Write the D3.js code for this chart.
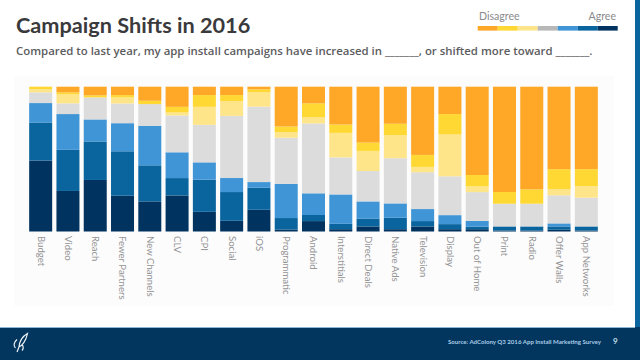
<!DOCTYPE html>
<html>
<head>
<meta charset="utf-8">
<style type="text/css">
	html, body { margin: 0; padding: 0; background: #fff; }
	svg { display: block; font-family: "Lato", sans-serif; }
	.title { font-size: 21.7px; font-weight: 700; fill: #3a3a3c; }
	.subtitle { font-family: "Open Sans", sans-serif; font-size: 11.4px; font-weight: 600; fill: #5c5c5e; }
	.legend_label { font-size: 10.6px; fill: #8a8a8c; }
	.x.axis text { font-size: 9.6px; fill: #949496; }
	.source { font-size: 6.1px; font-weight: 700; fill: #a9cde6; }
	.page_no { font-size: 8px; font-weight: 700; fill: #c6e0f0; }
</style>
<script src="https://d3js.org/d3.v7.min.js"></script>
</head>
<body>
<script type="text/javascript">
	var categories = ["Budget", "Video", "Reach", "Fewer Partners", "New Channels", "CLV", "CPI", "Social", "iOS",
		"Programmatic", "Android", "Interstitials", "Direct Deals", "Native Ads", "Television", "Display",
		"Out of Home", "Print", "Radio", "Offer Walls", "App Networks"];

	// bottom of the stack first
	var agree3 = [49, 28, 35.6, 24.7, 20.8, 24.9, 13.6, 7.4, 15, 1.4, 7.2, 1.6, 3.5, 1.6, 3.5, 1.6, 1.6, 0.7, 0.7, 1.2, 0.7];
	var agree2 = [26.3, 28.4, 26.6, 30.7, 24.9, 12, 22.2, 19.9, 15.2, 7.9, 4.2, 3.7, 5.5, 7.9, 3.7, 3.5, 1.8, 2.8, 2.8, 2.3, 2.8];
	var agree1 = [13.4, 24.7, 15.2, 19.4, 27.3, 17.8, 12, 9.7, 3.9, 23.6, 15, 20.3, 11.8, 9.9, 8.3, 6.2, 3.9, 0, 0, 2.1, 0];
	var neutral = [7.4, 7.4, 15.2, 13.6, 15, 25.4, 25.9, 43, 52, 31.9, 48.3, 25.6, 21, 31.2, 25.4, 26.8, 19.9, 15.7, 15.7, 19.4, 19.9];
	var disagree1 = [2.3, 6.2, 0, 4.2, 0, 2.1, 12.5, 10.2, 9.9, 3.9, 4.2, 16.9, 13.9, 15.9, 3.7, 28.9, 3.9, 0, 0, 4.2, 7.9];
	var disagree2 = [1.6, 1.4, 1.4, 1.6, 2.3, 3.9, 8.1, 4.2, 2.1, 3.9, 9.7, 5.8, 5.8, 7.9, 8.3, 14.1, 7.9, 8.1, 9.9, 13.9, 11.8];
	var disagree3 = [0, 3.9, 6, 5.8, 9.7, 13.9, 5.8, 5.8, 1.8, 27.5, 11.5, 26.1, 38.6, 25.6, 47.1, 18.9, 61, 72.7, 70.9, 57, 57];

	var series_names = ["agree3", "agree2", "agree1", "neutral", "disagree1", "disagree2", "disagree3"];
	var series_values = [agree3, agree2, agree1, neutral, disagree1, disagree2, disagree3];
	var bar_colors = ["#00335f", "#0a659f", "#3f95d5", "#dcdcdc", "#ffe58a", "#ffd833", "#ffa726"];
	var legend_colors = ["#ffa726", "#ffd833", "#ffe58a", "#b8b8b8", "#3f95d5", "#0a659f", "#00335f"];

	var width = 640, height = 360;

	var table = categories.map(function(c, i) {
		var row = { category: c };
		series_names.forEach(function(name, j) { row[name] = series_values[j][i]; });
		return row;
	});

	var stacked = d3.stack()
		.keys(series_names)
		.offset(d3.stackOffsetExpand)(table);

	var x_scale = d3.scaleBand()
		.domain(categories)
		.range([27.8, 599.2])
		.paddingInner(0.157)
		.paddingOuter(0.05);

	var y_scale = d3.scaleLinear()
		.domain([0, 1])
		.range([231.5, 86.7]);

	var color_scale = d3.scaleOrdinal()
		.domain(series_names)
		.range(bar_colors);

	var svg = d3.select("body")
		.append("svg")
			.attr("width", width)
			.attr("height", height);

	// backgrounds
	svg.append("rect").attr("x", 14).attr("y", 76).attr("width", 600).attr("height", 230).attr("fill", "#fcfcfc");
	svg.append("rect").attr("x", 635).attr("y", 0).attr("width", 5).attr("height", 328).attr("fill", "#0a659f");
	svg.append("rect").attr("x", 0).attr("y", 327).attr("width", width).attr("height", 33).attr("fill", "#02365f");
	svg.append("rect").attr("x", 0).attr("y", 327).attr("width", 635).attr("height", 1).attr("fill", "#8fb8d2");

	svg.append("text").attr("class", "title").attr("x", 16).attr("y", 33).text("Campaign Shifts in 2016");
	svg.append("text").attr("class", "subtitle").attr("x", 16).attr("y", 54.5)
		.text("Compared to last year, my app install campaigns have increased in _______, or shifted more toward _______.");

	// legend
	var legend_scale = d3.scaleBand()
		.domain(legend_colors)
		.range([477.7, 617.7]);

	svg.selectAll("rect.legend")
		.data(legend_colors)
		.enter()
		.append("rect")
			.attr("class", "legend")
			.attr("x", function(d) { return legend_scale(d); })
			.attr("y", 26)
			.attr("width", legend_scale.bandwidth())
			.attr("height", 4.6)
			.attr("fill", function(d) { return d; });

	svg.append("text").attr("class", "legend_label").attr("x", 479).attr("y", 20).text("Disagree");
	svg.append("text").attr("class", "legend_label").attr("x", 616).attr("y", 20).attr("text-anchor", "end").text("Agree");

	// bars
	svg.selectAll("g.layer")
		.data(stacked)
		.enter()
		.append("g")
			.attr("class", "layer")
			.attr("fill", function(d) { return color_scale(d.key); })
		.selectAll("rect")
		.data(function(d) { return d; })
		.enter()
		.append("rect")
			.attr("x", function(d) { return x_scale(d.data.category); })
			.attr("y", function(d) { return y_scale(d[1]); })
			.attr("width", x_scale.bandwidth())
			.attr("height", function(d) { return y_scale(d[0]) - y_scale(d[1]); });

	var x_axis = d3.axisBottom(x_scale).tickSize(0).tickPadding(0);

	var axis_g = svg.append("g")
		.attr("class", "x axis")
		.attr("transform", "translate(0, 236)")
		.call(x_axis);

	axis_g.select(".domain").remove();
	axis_g.selectAll("text")
		.attr("transform", "rotate(90)")
		.attr("x", 0)
		.attr("y", 0)
		.attr("dy", "0.32em")
		.style("text-anchor", "start")
		.style("font-family", "Lato, sans-serif");

	// footer
	svg.append("text").attr("class", "source").attr("x", 601).attr("y", 343.5).attr("text-anchor", "end")
		.text("Source:  AdColony Q3 2016 App Install Marketing Survey");
	svg.append("text").attr("class", "page_no").attr("x", 613).attr("y", 344).text("9");

	// rocket mark, hand traced
	svg.append("path")
		.attr("d", "M27.5 333.5 C23 336 19.5 341 19 347 C22 346 26 341 27.5 333.5 Z M17 339.5 C14 342 13 346 15.5 348 M19 347 L17 352 M22 344 C23.5 346.5 23.5 349 22 350.5")
		.attr("fill", "none")
		.attr("stroke", "#eef3f7")
		.attr("stroke-width", 1.2);
</script>
</body>
</html>
